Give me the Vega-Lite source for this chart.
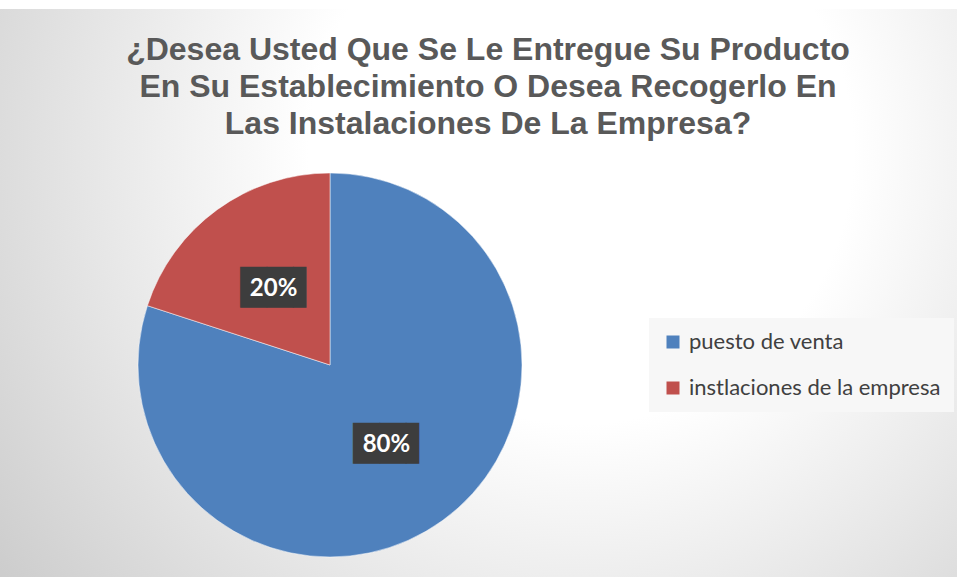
{
  "$schema": "https://vega.github.io/schema/vega-lite/v6.json",
  "autosize": {"type": "none"},
  "width": 1254,
  "height": 712,
  "padding": {"left": -297, "top": 9, "right": 0, "bottom": -144},
  "background": "white",
  "config": {
    "view": {"stroke": "#bfbfbf", "strokeWidth": 1}
  },
  "title": {
    "text": ["¿Desea Usted Que Se Le Entregue Su Producto", "En Su Establecimiento O Desea Recogerlo En", "Las Instalaciones De La Empresa?"],
    "font": "Liberation Sans",
    "fontSize": 32,
    "fontWeight": "bold",
    "color": "#595959",
    "lineHeight": 37,
    "anchor": "middle",
    "frame": "group",
    "dx": 158,
    "offset": -132
  },
  "layer": [
    {
      "data": {"values": [{"fondo": 1}]},
      "mark": {
        "type": "rect",
        "color": {
          "gradient": "radial",
          "x1": 0.7, "y1": 0.33, "r1": 0,
          "x2": 0.7, "y2": 0.33, "r2": 0.62,
          "stops": [
            {"offset": 0, "color": "#ffffff"},
            {"offset": 0.35, "color": "#ffffff"},
            {"offset": 1, "color": "#c6c6c6"}
          ]
        }
      },
      "encoding": {
        "x": {"value": 0},
        "x2": {"value": "width"},
        "y": {"value": 0},
        "y2": {"value": "height"}
      }
    },
    {
      "data": {
        "values": [
          {"respuesta": "puesto de venta", "valor": 80, "orden": 1, "etiqueta": "80%"},
          {"respuesta": "instlaciones de la empresa", "valor": 20, "orden": 2, "etiqueta": "20%"}
        ]
      },
      "encoding": {
        "theta": {"field": "valor", "type": "quantitative", "stack": true},
        "order": {"field": "orden", "type": "quantitative"}
      },
      "layer": [
        {
          "mark": {"type": "arc", "radius": 192, "stroke": "white", "strokeWidth": 0.5},
          "encoding": {
            "color": {
              "field": "respuesta",
              "type": "nominal",
              "scale": {"domain": ["puesto de venta", "instlaciones de la empresa"], "range": ["#4f81bd", "#c0504d"]},
              "legend": {
                "orient": "none",
                "legendX": 946,
                "legendY": 309,
                "title": null,
                "symbolType": "square",
                "symbolSize": 169,
                "symbolStrokeWidth": 0,
                "labelFont": "Lato",
                "labelFontSize": 22,
                "labelColor": "#404040",
                "labelOffset": 5,
                "labelLimit": 400,
                "rowPadding": 24,
                "padding": 13,
                "fillColor": "#f7f7f7"
              }
            }
          }
        },
        {
          "mark": {"type": "text", "radius": 96, "dy": 2, "dx": 6.5, "text": "██▌", "font": "DejaVu Sans", "fontSize": 34.5, "color": "#3d3d3d", "baseline": "middle", "align": "center"}
        },
        {
          "mark": {"type": "text", "radius": 96, "dy": 2, "font": "Lato", "fontWeight": "bold", "fontSize": 24, "color": "white", "baseline": "middle", "align": "center"},
          "encoding": {"text": {"field": "etiqueta", "type": "nominal"}}
        }
      ]
    }
  ]
}
